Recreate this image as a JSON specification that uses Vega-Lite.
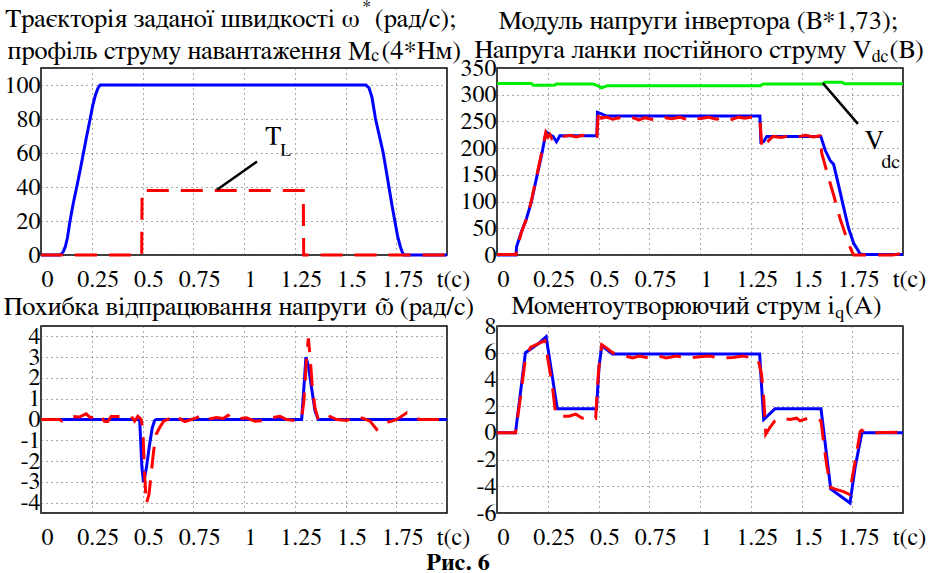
{
  "$schema": "https://vega.github.io/schema/vega-lite/v6.json",
  "background": "white",
  "padding": {"left": 3, "top": -3, "right": 5, "bottom": 0},
  "bounds": "flush",
  "columns": 2,
  "spacing": {"row": 71, "column": 50},
  "title": {"text": "Рис. 6", "orient": "bottom", "font": "FreeSerif", "fontSize": 24, "fontWeight": "bold", "color": "black", "anchor": "middle", "dx": -7, "offset": 1},
  "config": {
    "font": "FreeSerif",
    "view": {"stroke": "black", "strokeWidth": 1.5},
    "axis": {"grid": true, "gridColor": "#555", "gridDash": [1, 4], "gridWidth": 1, "ticks": false, "domain": false, "labelFont": "FreeSerif", "labelFontSize": 24, "labelColor": "black", "title": null, "labelOverlap": false, "labelFlush": false, "labelBound": false},
    "axisX": {"labelPadding": 12, "labelOffset": 6},
    "axisY": {"labelPadding": 1},
    "text": {"font": "FreeSerif", "color": "black", "align": "left", "baseline": "alphabetic"}
  },
  "datasets": {
    "p1": [
      {"t": 0, "v": 0, "s": "ref"}, {"t": 0.09, "v": 0, "s": "ref"}, {"t": 0.1, "v": 0.5, "s": "ref"}, {"t": 0.11, "v": 2, "s": "ref"}, {"t": 0.12, "v": 5, "s": "ref"}, {"t": 0.13, "v": 10, "s": "ref"}, {"t": 0.143, "v": 20, "s": "ref"}, {"t": 0.16, "v": 31, "s": "ref"}, {"t": 0.176, "v": 40, "s": "ref"}, {"t": 0.193, "v": 50, "s": "ref"}, {"t": 0.209, "v": 60, "s": "ref"}, {"t": 0.225, "v": 70, "s": "ref"}, {"t": 0.242, "v": 80, "s": "ref"}, {"t": 0.255, "v": 88, "s": "ref"}, {"t": 0.268, "v": 94, "s": "ref"}, {"t": 0.28, "v": 98, "s": "ref"}, {"t": 0.291, "v": 100, "s": "ref"}, {"t": 1.6, "v": 100, "s": "ref"}, {"t": 1.615, "v": 98.5, "s": "ref"}, {"t": 1.63, "v": 93, "s": "ref"}, {"t": 1.648, "v": 80, "s": "ref"}, {"t": 1.667, "v": 70, "s": "ref"}, {"t": 1.686, "v": 60, "s": "ref"}, {"t": 1.7, "v": 50, "s": "ref"}, {"t": 1.714, "v": 40, "s": "ref"}, {"t": 1.728, "v": 30, "s": "ref"}, {"t": 1.743, "v": 20, "s": "ref"}, {"t": 1.757, "v": 11, "s": "ref"}, {"t": 1.77, "v": 5, "s": "ref"}, {"t": 1.78, "v": 1.5, "s": "ref"}, {"t": 1.788, "v": 0, "s": "ref"}, {"t": 2, "v": 0, "s": "ref"},
      {"t": 0, "v": 0, "s": "load"}, {"t": 0.496, "v": 0, "s": "load"}, {"t": 0.498, "v": 38, "s": "load"}, {"t": 1.292, "v": 38, "s": "load"}, {"t": 1.294, "v": 0, "s": "load"}, {"t": 2, "v": 0, "s": "load"}
    ],
    "p1text": [
      {"t": 1.644, "v": 133.9, "label": "(рад/с);"},
      {"t": 1.677, "v": 115.5, "label": "(4*Нм)"},
      {"t": 1.105, "v": 65.3, "label": "T"}
    ],
    "p1right": [
      {"t": 1.570, "v": 133.9, "label": "Траєкторія заданої швидкості ω"},
      {"t": 1.627, "v": 115.5, "label": "профіль струму навантаження M"}
    ],
    "p1sub": [
      {"t": 1.583, "v": 143, "label": "*"},
      {"t": 1.627, "v": 114.3, "label": "c"},
      {"t": 1.179, "v": 58, "label": "L"}
    ],
    "p1rule": [{"t": 0.867, "v": 38.4, "t2": 1.064, "v2": 55}],
    "p2": [
      {"t": 0, "v": 0, "s": "ref"}, {"t": 0.094, "v": 0, "s": "ref"}, {"t": 0.096, "v": 15, "s": "ref"}, {"t": 0.12, "v": 43, "s": "ref"}, {"t": 0.145, "v": 68, "s": "ref"}, {"t": 0.169, "v": 99, "s": "ref"}, {"t": 0.194, "v": 143, "s": "ref"}, {"t": 0.219, "v": 186, "s": "ref"}, {"t": 0.235, "v": 217, "s": "ref"}, {"t": 0.243, "v": 230, "s": "ref"}, {"t": 0.26, "v": 225, "s": "ref"}, {"t": 0.276, "v": 222, "s": "ref"}, {"t": 0.293, "v": 212, "s": "ref"}, {"t": 0.301, "v": 217, "s": "ref"}, {"t": 0.309, "v": 223, "s": "ref"}, {"t": 0.492, "v": 223, "s": "ref"}, {"t": 0.495, "v": 267, "s": "ref"}, {"t": 0.515, "v": 264, "s": "ref"}, {"t": 0.54, "v": 260, "s": "ref"}, {"t": 1.295, "v": 260, "s": "ref"}, {"t": 1.3, "v": 211, "s": "ref"}, {"t": 1.313, "v": 212, "s": "ref"}, {"t": 1.329, "v": 222, "s": "ref"}, {"t": 1.595, "v": 222, "s": "ref"}, {"t": 1.617, "v": 196, "s": "ref"}, {"t": 1.641, "v": 177, "s": "ref"}, {"t": 1.658, "v": 170, "s": "ref"}, {"t": 1.683, "v": 130, "s": "ref"}, {"t": 1.707, "v": 90, "s": "ref"}, {"t": 1.732, "v": 50, "s": "ref"}, {"t": 1.757, "v": 22, "s": "ref"}, {"t": 1.773, "v": 12, "s": "ref"}, {"t": 1.789, "v": 2, "s": "ref"}, {"t": 1.8, "v": 1, "s": "ref"}, {"t": 2, "v": 1, "s": "ref"},
      {"t": 0, "v": 1, "s": "act"}, {"t": 0.094, "v": 1, "s": "act"}, {"t": 0.097, "v": 10, "s": "act"}, {"t": 0.12, "v": 42, "s": "act"}, {"t": 0.15, "v": 72, "s": "act"}, {"t": 0.17, "v": 103, "s": "act"}, {"t": 0.19, "v": 138, "s": "act"}, {"t": 0.21, "v": 174, "s": "act"}, {"t": 0.23, "v": 210, "s": "act"}, {"t": 0.24, "v": 229, "s": "act"}, {"t": 0.25, "v": 221, "s": "act"}, {"t": 0.26, "v": 226, "s": "act"}, {"t": 0.27, "v": 218, "s": "act"}, {"t": 0.285, "v": 222, "s": "act"}, {"t": 0.3, "v": 219, "s": "act"}, {"t": 0.33, "v": 222, "s": "act"}, {"t": 0.36, "v": 224, "s": "act"}, {"t": 0.39, "v": 221, "s": "act"}, {"t": 0.42, "v": 224, "s": "act"}, {"t": 0.45, "v": 222, "s": "act"}, {"t": 0.48, "v": 223, "s": "act"}, {"t": 0.492, "v": 222, "s": "act"}, {"t": 0.5, "v": 272, "s": "act"}, {"t": 0.515, "v": 256, "s": "act"}, {"t": 0.54, "v": 258, "s": "act"}, {"t": 0.57, "v": 254, "s": "act"}, {"t": 0.6, "v": 257, "s": "act"}, {"t": 0.63, "v": 255, "s": "act"}, {"t": 0.66, "v": 258, "s": "act"}, {"t": 0.7, "v": 253, "s": "act"}, {"t": 0.73, "v": 257, "s": "act"}, {"t": 0.76, "v": 254, "s": "act"}, {"t": 0.8, "v": 252, "s": "act"}, {"t": 0.83, "v": 257, "s": "act"}, {"t": 0.86, "v": 255, "s": "act"}, {"t": 0.9, "v": 258, "s": "act"}, {"t": 0.94, "v": 253, "s": "act"}, {"t": 0.97, "v": 257, "s": "act"}, {"t": 1.0, "v": 255, "s": "act"}, {"t": 1.04, "v": 258, "s": "act"}, {"t": 1.08, "v": 254, "s": "act"}, {"t": 1.11, "v": 257, "s": "act"}, {"t": 1.15, "v": 253, "s": "act"}, {"t": 1.19, "v": 258, "s": "act"}, {"t": 1.22, "v": 256, "s": "act"}, {"t": 1.25, "v": 258, "s": "act"}, {"t": 1.28, "v": 257, "s": "act"}, {"t": 1.295, "v": 255, "s": "act"}, {"t": 1.305, "v": 200, "s": "act"}, {"t": 1.32, "v": 205, "s": "act"}, {"t": 1.34, "v": 215, "s": "act"}, {"t": 1.36, "v": 222, "s": "act"}, {"t": 1.4, "v": 220, "s": "act"}, {"t": 1.44, "v": 223, "s": "act"}, {"t": 1.48, "v": 221, "s": "act"}, {"t": 1.52, "v": 224, "s": "act"}, {"t": 1.56, "v": 221, "s": "act"}, {"t": 1.59, "v": 223, "s": "act"}, {"t": 1.6, "v": 190, "s": "act"}, {"t": 1.63, "v": 149, "s": "act"}, {"t": 1.66, "v": 110, "s": "act"}, {"t": 1.69, "v": 68, "s": "act"}, {"t": 1.72, "v": 34, "s": "act"}, {"t": 1.745, "v": 9, "s": "act"}, {"t": 1.757, "v": 0, "s": "act"}, {"t": 1.95, "v": 0, "s": "act"}, {"t": 1.98, "v": 2, "s": "act"}, {"t": 1.99, "v": 5, "s": "act"}, {"t": 2, "v": 2, "s": "act"},
      {"t": 0, "v": 321, "s": "vdc"}, {"t": 0.169, "v": 321, "s": "vdc"}, {"t": 0.18, "v": 317.5, "s": "vdc"}, {"t": 0.283, "v": 317.5, "s": "vdc"}, {"t": 0.292, "v": 320, "s": "vdc"}, {"t": 0.474, "v": 320, "s": "vdc"}, {"t": 0.5, "v": 316, "s": "vdc"}, {"t": 0.515, "v": 313, "s": "vdc"}, {"t": 0.535, "v": 315.5, "s": "vdc"}, {"t": 0.545, "v": 317, "s": "vdc"}, {"t": 1.298, "v": 317, "s": "vdc"}, {"t": 1.31, "v": 320, "s": "vdc"}, {"t": 1.604, "v": 320, "s": "vdc"}, {"t": 1.614, "v": 323.5, "s": "vdc"}, {"t": 1.7, "v": 323.5, "s": "vdc"}, {"t": 1.712, "v": 320.5, "s": "vdc"}, {"t": 2, "v": 320.5, "s": "vdc"}
    ],
    "p2center": [{"t": 0.99, "v": 423.8, "label": "Модуль напруги інвертора (В*1,73);"}],
    "p2right": [{"t": 1.844, "v": 367.9, "label": "Напруга ланки постійного струму V"}],
    "p2text": [{"t": 1.934, "v": 367.9, "label": "(В)"}],
    "p2sub": [{"t": 1.846, "v": 361.5, "label": "dc"}],
    "p2ann": [{"t": 1.811, "v": 198.8, "label": "V"}],
    "p2annsub": [{"t": 1.894, "v": 162.9, "label": "dc"}],
    "p2rule": [{"t": 1.605, "v": 321.8, "t2": 1.778, "v2": 245.4}],
    "p3": [
      {"t": 0, "v": 0, "s": "ref"}, {"t": 0.486, "v": 0, "s": "ref"}, {"t": 0.497, "v": -2.3, "s": "ref"}, {"t": 0.505, "v": -3.0, "s": "ref"}, {"t": 0.51, "v": -2.8, "s": "ref"}, {"t": 0.518, "v": -2.4, "s": "ref"}, {"t": 0.535, "v": -1.2, "s": "ref"}, {"t": 0.548, "v": -0.4, "s": "ref"}, {"t": 0.56, "v": -0.05, "s": "ref"}, {"t": 0.568, "v": 0, "s": "ref"}, {"t": 1.284, "v": 0, "s": "ref"}, {"t": 1.296, "v": 1.67, "s": "ref"}, {"t": 1.305, "v": 3.0, "s": "ref"}, {"t": 1.317, "v": 2.6, "s": "ref"}, {"t": 1.333, "v": 1.5, "s": "ref"}, {"t": 1.35, "v": 0.4, "s": "ref"}, {"t": 1.366, "v": 0, "s": "ref"}, {"t": 2, "v": 0, "s": "ref"},
      {"t": 0, "v": 0, "s": "act"}, {"t": 0.091, "v": 0, "s": "act"}, {"t": 0.104, "v": -0.08, "s": "act"}, {"t": 0.123, "v": 0, "s": "act"}, {"t": 0.148, "v": 0.15, "s": "act"}, {"t": 0.189, "v": 0.12, "s": "act"}, {"t": 0.222, "v": 0.27, "s": "act"}, {"t": 0.242, "v": 0.1, "s": "act"}, {"t": 0.263, "v": 0.12, "s": "act"}, {"t": 0.288, "v": 0.27, "s": "act"}, {"t": 0.313, "v": -0.1, "s": "act"}, {"t": 0.329, "v": -0.1, "s": "act"}, {"t": 0.346, "v": 0.15, "s": "act"}, {"t": 0.379, "v": 0.15, "s": "act"}, {"t": 0.412, "v": 0.15, "s": "act"}, {"t": 0.444, "v": 0.15, "s": "act"}, {"t": 0.461, "v": -0.08, "s": "act"}, {"t": 0.477, "v": 0.15, "s": "act"}, {"t": 0.494, "v": 0, "s": "act"}, {"t": 0.502, "v": -0.55, "s": "act"}, {"t": 0.51, "v": -2.6, "s": "act"}, {"t": 0.519, "v": -4.05, "s": "act"}, {"t": 0.532, "v": -3.6, "s": "act"}, {"t": 0.543, "v": -2.6, "s": "act"}, {"t": 0.555, "v": -1.5, "s": "act"}, {"t": 0.568, "v": -0.7, "s": "act"}, {"t": 0.584, "v": -0.4, "s": "act"}, {"t": 0.604, "v": -0.08, "s": "act"}, {"t": 0.634, "v": 0.05, "s": "act"}, {"t": 0.658, "v": 0.24, "s": "act"}, {"t": 0.683, "v": 0.05, "s": "act"}, {"t": 0.708, "v": -0.1, "s": "act"}, {"t": 0.741, "v": 0, "s": "act"}, {"t": 0.765, "v": 0.08, "s": "act"}, {"t": 0.79, "v": 0.2, "s": "act"}, {"t": 0.815, "v": 0, "s": "act"}, {"t": 0.864, "v": 0.1, "s": "act"}, {"t": 0.897, "v": 0.05, "s": "act"}, {"t": 0.922, "v": 0.2, "s": "act"}, {"t": 0.947, "v": 0, "s": "act"}, {"t": 1.012, "v": 0.08, "s": "act"}, {"t": 1.053, "v": -0.08, "s": "act"}, {"t": 1.095, "v": -0.05, "s": "act"}, {"t": 1.144, "v": 0.1, "s": "act"}, {"t": 1.177, "v": 0.15, "s": "act"}, {"t": 1.21, "v": 0, "s": "act"}, {"t": 1.267, "v": -0.08, "s": "act"}, {"t": 1.284, "v": 0.08, "s": "act"}, {"t": 1.295, "v": 0.87, "s": "act"}, {"t": 1.309, "v": 3.1, "s": "act"}, {"t": 1.317, "v": 3.9, "s": "act"}, {"t": 1.325, "v": 3.1, "s": "act"}, {"t": 1.337, "v": 1.5, "s": "act"}, {"t": 1.35, "v": 0.55, "s": "act"}, {"t": 1.366, "v": 0, "s": "act"}, {"t": 1.399, "v": -0.05, "s": "act"}, {"t": 1.424, "v": 0.15, "s": "act"}, {"t": 1.457, "v": 0, "s": "act"}, {"t": 1.506, "v": -0.05, "s": "act"}, {"t": 1.547, "v": 0.15, "s": "act"}, {"t": 1.588, "v": 0.05, "s": "act"}, {"t": 1.621, "v": -0.08, "s": "act"}, {"t": 1.654, "v": -0.48, "s": "act"}, {"t": 1.687, "v": -0.16, "s": "act"}, {"t": 1.72, "v": -0.1, "s": "act"}, {"t": 1.753, "v": 0, "s": "act"}, {"t": 1.802, "v": 0.32, "s": "act"}, {"t": 1.835, "v": 0.08, "s": "act"}, {"t": 1.868, "v": 0, "s": "act"}, {"t": 2, "v": 0, "s": "act"}
    ],
    "p3right": [{"t": 1.604, "v": 5.03, "label": "Похибка відпрацювання напруги"}],
    "p3text": [{"t": 1.767, "v": 5.03, "label": "(рад/с)"}],
    "p3omega": [{"t": 1.644, "v": 5.03, "label": "ω̃"}],
    "p4": [
      {"t": 0, "v": 0, "s": "ref"}, {"t": 0.091, "v": 0, "s": "ref"}, {"t": 0.14, "v": 6.0, "s": "ref"}, {"t": 0.206, "v": 6.7, "s": "ref"}, {"t": 0.242, "v": 7.2, "s": "ref"}, {"t": 0.297, "v": 1.8, "s": "ref"}, {"t": 0.49, "v": 1.8, "s": "ref"}, {"t": 0.503, "v": 5.0, "s": "ref"}, {"t": 0.516, "v": 6.5, "s": "ref"}, {"t": 0.536, "v": 6.3, "s": "ref"}, {"t": 0.569, "v": 5.9, "s": "ref"}, {"t": 1.294, "v": 5.9, "s": "ref"}, {"t": 1.299, "v": 4.5, "s": "ref"}, {"t": 1.314, "v": 1.0, "s": "ref"}, {"t": 1.369, "v": 1.8, "s": "ref"}, {"t": 1.596, "v": 1.8, "s": "ref"}, {"t": 1.644, "v": -4.2, "s": "ref"}, {"t": 1.739, "v": -5.25, "s": "ref"}, {"t": 1.764, "v": -2.6, "s": "ref"}, {"t": 1.797, "v": 0, "s": "ref"}, {"t": 2, "v": 0, "s": "ref"},
      {"t": 0, "v": 0, "s": "act"}, {"t": 0.091, "v": 0, "s": "act"}, {"t": 0.115, "v": 2.6, "s": "act"}, {"t": 0.14, "v": 5.6, "s": "act"}, {"t": 0.165, "v": 6.4, "s": "act"}, {"t": 0.206, "v": 6.7, "s": "act"}, {"t": 0.236, "v": 6.9, "s": "act"}, {"t": 0.252, "v": 5.4, "s": "act"}, {"t": 0.272, "v": 3.6, "s": "act"}, {"t": 0.289, "v": 1.4, "s": "act"}, {"t": 0.305, "v": 1.25, "s": "act"}, {"t": 0.355, "v": 1.25, "s": "act"}, {"t": 0.388, "v": 1.4, "s": "act"}, {"t": 0.42, "v": 1.1, "s": "act"}, {"t": 0.454, "v": 1.25, "s": "act"}, {"t": 0.486, "v": 1.1, "s": "act"}, {"t": 0.5, "v": 4.6, "s": "act"}, {"t": 0.516, "v": 6.6, "s": "act"}, {"t": 0.536, "v": 6.4, "s": "act"}, {"t": 0.569, "v": 6.0, "s": "act"}, {"t": 0.602, "v": 5.9, "s": "act"}, {"t": 0.668, "v": 5.6, "s": "act"}, {"t": 0.701, "v": 5.75, "s": "act"}, {"t": 0.75, "v": 5.6, "s": "act"}, {"t": 0.8, "v": 5.75, "s": "act"}, {"t": 0.833, "v": 5.6, "s": "act"}, {"t": 0.882, "v": 5.75, "s": "act"}, {"t": 0.948, "v": 5.6, "s": "act"}, {"t": 0.998, "v": 5.7, "s": "act"}, {"t": 1.047, "v": 5.75, "s": "act"}, {"t": 1.096, "v": 5.6, "s": "act"}, {"t": 1.162, "v": 5.65, "s": "act"}, {"t": 1.212, "v": 5.75, "s": "act"}, {"t": 1.261, "v": 5.6, "s": "act"}, {"t": 1.286, "v": 5.5, "s": "act"}, {"t": 1.303, "v": 4.4, "s": "act"}, {"t": 1.314, "v": 2.6, "s": "act"}, {"t": 1.324, "v": -0.1, "s": "act"}, {"t": 1.344, "v": 0.4, "s": "act"}, {"t": 1.369, "v": 0.9, "s": "act"}, {"t": 1.393, "v": 1.1, "s": "act"}, {"t": 1.443, "v": 1.0, "s": "act"}, {"t": 1.476, "v": 1.1, "s": "act"}, {"t": 1.493, "v": 0.9, "s": "act"}, {"t": 1.533, "v": 1.1, "s": "act"}, {"t": 1.583, "v": 1.0, "s": "act"}, {"t": 1.596, "v": 0.9, "s": "act"}, {"t": 1.608, "v": -0.6, "s": "act"}, {"t": 1.624, "v": -2.4, "s": "act"}, {"t": 1.644, "v": -4.1, "s": "act"}, {"t": 1.674, "v": -4.25, "s": "act"}, {"t": 1.707, "v": -4.4, "s": "act"}, {"t": 1.736, "v": -4.6, "s": "act"}, {"t": 1.753, "v": -3.1, "s": "act"}, {"t": 1.773, "v": -1.4, "s": "act"}, {"t": 1.789, "v": 0.1, "s": "act"}, {"t": 1.797, "v": 0.2, "s": "act"}, {"t": 1.814, "v": 0, "s": "act"}, {"t": 2, "v": 0.05, "s": "act"}
    ],
    "p4right": [{"t": 1.664, "v": 8.89, "label": "Моментоутворюючий струм i"}],
    "p4text": [{"t": 1.714, "v": 8.89, "label": "(A)"}],
    "p4sub": [{"t": 1.666, "v": 8.59, "label": "q"}]
  },
  "concat": [
    {
      "width": 406, "height": 187,
      "encoding": {
        "x": {"field": "t", "type": "quantitative", "scale": {"domain": [0, 2], "nice": false, "zero": false}, "axis": {"values": [0, 0.25, 0.5, 0.75, 1, 1.25, 1.5, 1.75, 2], "labelExpr": "datum.value == 2 ? 't(c)' : '' + datum.value"}},
        "y": {"field": "v", "type": "quantitative", "scale": {"domain": [0, 110], "nice": false, "zero": false}, "axis": {"values": [0, 20, 40, 60, 80, 100], "labelExpr": "'' + datum.value"}}
      },
      "layer": [
        {"data": {"name": "p1"}, "transform": [{"filter": "datum.s == 'ref'"}], "mark": {"type": "line", "color": "#0000ff", "strokeWidth": 3}},
        {"data": {"name": "p1"}, "transform": [{"filter": "datum.s == 'load'"}], "mark": {"type": "line", "color": "#ff0000", "strokeWidth": 3, "strokeDash": [22, 12]}},
        {"data": {"name": "p1rule"}, "mark": {"type": "rule", "color": "black", "strokeWidth": 2.5}, "encoding": {"x2": {"field": "t2"}, "y2": {"field": "v2"}}},
        {"data": {"name": "p1text"}, "mark": {"type": "text", "fontSize": 26.5, "font": "FreeSerif"}, "encoding": {"text": {"field": "label"}}},
        {"data": {"name": "p1right"}, "mark": {"type": "text", "fontSize": 26.5, "font": "FreeSerif", "align": "right"}, "encoding": {"text": {"field": "label"}}},
        {"data": {"name": "p1sub"}, "mark": {"type": "text", "fontSize": 18, "font": "FreeSerif"}, "encoding": {"text": {"field": "label"}}}
      ]
    },
    {
      "width": 406, "height": 187,
      "encoding": {
        "x": {"field": "t", "type": "quantitative", "scale": {"domain": [0, 2], "nice": false, "zero": false}, "axis": {"values": [0, 0.25, 0.5, 0.75, 1, 1.25, 1.5, 1.75, 2], "labelExpr": "datum.value == 2 ? 't(c)' : '' + datum.value"}},
        "y": {"field": "v", "type": "quantitative", "scale": {"domain": [0, 350], "nice": false, "zero": false}, "axis": {"values": [0, 50, 100, 150, 200, 250, 300, 350], "labelExpr": "'' + datum.value"}}
      },
      "layer": [
        {"data": {"name": "p2"}, "transform": [{"filter": "datum.s == 'vdc'"}], "mark": {"type": "line", "color": "#00ee00", "strokeWidth": 3}},
        {"data": {"name": "p2"}, "transform": [{"filter": "datum.s == 'ref'"}], "mark": {"type": "line", "color": "#0000ff", "strokeWidth": 3}},
        {"data": {"name": "p2"}, "transform": [{"filter": "datum.s == 'act'"}], "mark": {"type": "line", "color": "#ff0000", "strokeWidth": 3, "strokeDash": [22, 12]}},
        {"data": {"name": "p2rule"}, "mark": {"type": "rule", "color": "black", "strokeWidth": 2.5}, "encoding": {"x2": {"field": "t2"}, "y2": {"field": "v2"}}},
        {"data": {"name": "p2center"}, "mark": {"type": "text", "fontSize": 26.5, "font": "FreeSerif", "align": "center"}, "encoding": {"text": {"field": "label"}}},
        {"data": {"name": "p2right"}, "mark": {"type": "text", "fontSize": 26.5, "font": "FreeSerif", "align": "right"}, "encoding": {"text": {"field": "label"}}},
        {"data": {"name": "p2text"}, "mark": {"type": "text", "fontSize": 26.5, "font": "FreeSerif"}, "encoding": {"text": {"field": "label"}}},
        {"data": {"name": "p2sub"}, "mark": {"type": "text", "fontSize": 18, "font": "FreeSerif"}, "encoding": {"text": {"field": "label"}}},
        {"data": {"name": "p2ann"}, "mark": {"type": "text", "fontSize": 27, "font": "FreeSerif"}, "encoding": {"text": {"field": "label"}}},
        {"data": {"name": "p2annsub"}, "mark": {"type": "text", "fontSize": 20, "font": "FreeSerif"}, "encoding": {"text": {"field": "label"}}}
      ]
    },
    {
      "width": 406, "height": 187,
      "encoding": {
        "x": {"field": "t", "type": "quantitative", "scale": {"domain": [0, 2], "nice": false, "zero": false}, "axis": {"values": [0, 0.25, 0.5, 0.75, 1, 1.25, 1.5, 1.75, 2], "labelExpr": "datum.value == 2 ? 't(c)' : '' + datum.value"}},
        "y": {"field": "v", "type": "quantitative", "scale": {"domain": [-4.5, 4.5], "nice": false, "zero": false}, "axis": {"values": [-4, -3, -2, -1, 0, 1, 2, 3, 4], "labelExpr": "'' + datum.value"}}
      },
      "layer": [
        {"data": {"name": "p3"}, "transform": [{"filter": "datum.s == 'ref'"}], "mark": {"type": "line", "color": "#0000ff", "strokeWidth": 3}},
        {"data": {"name": "p3"}, "transform": [{"filter": "datum.s == 'act'"}], "mark": {"type": "line", "color": "#ff0000", "strokeWidth": 3, "strokeDash": [22, 12]}},
        {"data": {"name": "p3right"}, "mark": {"type": "text", "fontSize": 26.5, "font": "FreeSerif", "align": "right"}, "encoding": {"text": {"field": "label"}}},
        {"data": {"name": "p3text"}, "mark": {"type": "text", "fontSize": 26.5, "font": "FreeSerif"}, "encoding": {"text": {"field": "label"}}},
        {"data": {"name": "p3omega"}, "mark": {"type": "text", "fontSize": 28, "font": "FreeSerif"}, "encoding": {"text": {"field": "label"}}}
      ]
    },
    {
      "width": 406, "height": 187,
      "encoding": {
        "x": {"field": "t", "type": "quantitative", "scale": {"domain": [0, 2], "nice": false, "zero": false}, "axis": {"values": [0, 0.25, 0.5, 0.75, 1, 1.25, 1.5, 1.75, 2], "labelExpr": "datum.value == 2 ? 't(c)' : '' + datum.value"}},
        "y": {"field": "v", "type": "quantitative", "scale": {"domain": [-6, 8], "nice": false, "zero": false}, "axis": {"values": [-6, -4, -2, 0, 2, 4, 6, 8], "labelExpr": "'' + datum.value"}}
      },
      "layer": [
        {"data": {"name": "p4"}, "transform": [{"filter": "datum.s == 'ref'"}], "mark": {"type": "line", "color": "#0000ff", "strokeWidth": 3}},
        {"data": {"name": "p4"}, "transform": [{"filter": "datum.s == 'act'"}], "mark": {"type": "line", "color": "#ff0000", "strokeWidth": 3, "strokeDash": [22, 12]}},
        {"data": {"name": "p4right"}, "mark": {"type": "text", "fontSize": 26.5, "font": "FreeSerif", "align": "right"}, "encoding": {"text": {"field": "label"}}},
        {"data": {"name": "p4text"}, "mark": {"type": "text", "fontSize": 26.5, "font": "FreeSerif"}, "encoding": {"text": {"field": "label"}}},
        {"data": {"name": "p4sub"}, "mark": {"type": "text", "fontSize": 18, "font": "FreeSerif"}, "encoding": {"text": {"field": "label"}}}
      ]
    }
  ]
}
